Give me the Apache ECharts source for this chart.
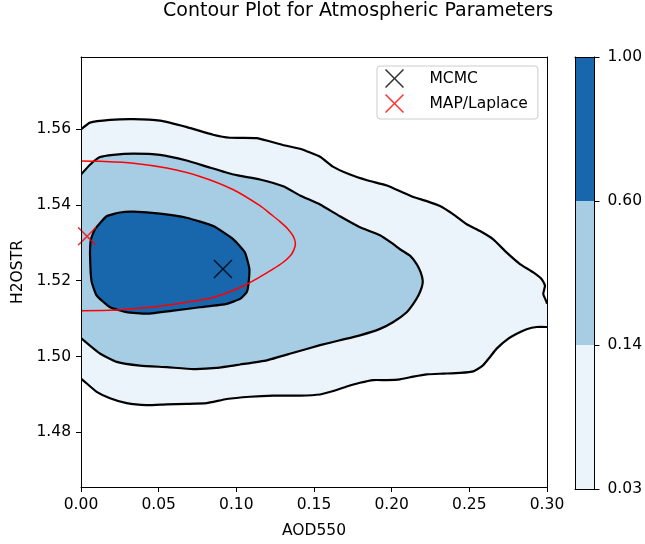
<!DOCTYPE html>
<html>
<head>
<meta charset="utf-8">
<title>Contour Plot for Atmospheric Parameters</title>
<script src="https://cdn.jsdelivr.net/npm/echarts@6/dist/echarts.min.js"></script>
<style>
  html, body { margin: 0; padding: 0; background: #fff; }
  #chart { width: 645px; height: 544px; }
</style>
</head>
<body>
<div id="chart"></div>
<script>
// contour levels (colorbar) and axis ticks
const levels = [0.03, 0.14, 0.60, 1.00];
const xTicks = [0.00, 0.05, 0.10, 0.15, 0.20, 0.25, 0.30];
const yTicks = [1.48, 1.50, 1.52, 1.54, 1.56];

// contour outlines as [AOD550, H2OSTR]
// level 0.03: upper edge (left -> right) and lower edge (right -> left)
const outerTop = [
    [0.0000, 1.5599], [0.0058, 1.5617], [0.0187, 1.5624], [0.0335, 1.5626],
    [0.0509, 1.5622], [0.0682, 1.5605], [0.0850, 1.5585], [0.0959, 1.5577],
    [0.1133, 1.5576], [0.1300, 1.5558], [0.1410, 1.5548], [0.1539, 1.5527],
    [0.1622, 1.5501], [0.1732, 1.5480], [0.1841, 1.5465], [0.1970, 1.5451],
    [0.2054, 1.5436], [0.2139, 1.5421], [0.2226, 1.5410], [0.2311, 1.5397],
    [0.2397, 1.5375], [0.2483, 1.5349], [0.2569, 1.5331], [0.2654, 1.5309],
    [0.2741, 1.5274], [0.2826, 1.5244], [0.2912, 1.5222], [0.2966, 1.5204],
    [0.2987, 1.5187], [0.2976, 1.5165], [0.2998, 1.5143], [0.3000, 1.5139]
];
const outerBottom = [
    [0.3000, 1.5078], [0.2934, 1.5078], [0.2869, 1.5072], [0.2805, 1.5060],
    [0.2751, 1.5047], [0.2676, 1.5021], [0.2633, 1.4999], [0.2586, 1.4976],
    [0.2526, 1.4961], [0.2440, 1.4957], [0.2333, 1.4955], [0.2226, 1.4953],
    [0.2139, 1.4947], [0.2054, 1.4940], [0.1968, 1.4938], [0.1882, 1.4938],
    [0.1796, 1.4931], [0.1711, 1.4921], [0.1624, 1.4909], [0.1539, 1.4900],
    [0.1410, 1.4897], [0.1238, 1.4897], [0.1088, 1.4894], [0.0938, 1.4888],
    [0.0809, 1.4877], [0.0680, 1.4875], [0.0552, 1.4874], [0.0423, 1.4872],
    [0.0294, 1.4877], [0.0187, 1.4890], [0.0101, 1.4907], [0.0037, 1.4929],
    [0.0000, 1.4942]
];
// level 0.14 (open at the left edge)
const midContour = [
    [0.0000, 1.5480], [0.0058, 1.5506], [0.0122, 1.5526], [0.0208, 1.5532],
    [0.0337, 1.5535], [0.0509, 1.5532], [0.0680, 1.5517], [0.0809, 1.5501],
    [0.0981, 1.5480], [0.1152, 1.5467], [0.1302, 1.5449], [0.1410, 1.5425],
    [0.1539, 1.5401], [0.1667, 1.5370], [0.1796, 1.5341], [0.1925, 1.5320],
    [0.2002, 1.5299], [0.2054, 1.5283], [0.2118, 1.5266], [0.2161, 1.5244],
    [0.2187, 1.5222], [0.2200, 1.5200], [0.2194, 1.5183], [0.2172, 1.5161],
    [0.2139, 1.5139], [0.2097, 1.5117], [0.2011, 1.5091], [0.1925, 1.5073],
    [0.1796, 1.5056], [0.1667, 1.5043], [0.1539, 1.5030], [0.1367, 1.5010],
    [0.1196, 1.4990], [0.1024, 1.4979], [0.0874, 1.4970], [0.0723, 1.4967],
    [0.0552, 1.4972], [0.0380, 1.4976], [0.0230, 1.4986], [0.0122, 1.5008],
    [0.0000, 1.5049]
];
// level 0.60 (closed)
const innerContour = [
    [0.0062, 1.5222], [0.0058, 1.5274], [0.0064, 1.5309], [0.0090, 1.5336],
    [0.0165, 1.5370], [0.0251, 1.5380], [0.0337, 1.5382], [0.0509, 1.5377],
    [0.0680, 1.5366], [0.0852, 1.5344], [0.0981, 1.5309], [0.1056, 1.5274],
    [0.1084, 1.5231], [0.1077, 1.5187], [0.1067, 1.5170], [0.1024, 1.5152],
    [0.0938, 1.5139], [0.0766, 1.5130], [0.0594, 1.5121], [0.0423, 1.5113],
    [0.0294, 1.5117], [0.0187, 1.5130], [0.0101, 1.5161], [0.0069, 1.5196],
    [0.0062, 1.5222]
];
// Laplace approximation ellipse (visible part)
const laplaceEllipse = [
    [0.0000, 1.5516], [0.0122, 1.5515], [0.0337, 1.5510], [0.0552, 1.5497],
    [0.0766, 1.5475], [0.0981, 1.5440], [0.1152, 1.5398], [0.1217, 1.5377],
    [0.1281, 1.5356], [0.1333, 1.5336], [0.1365, 1.5318], [0.1380, 1.5300],
    [0.1371, 1.5282], [0.1346, 1.5265], [0.1300, 1.5248], [0.1230, 1.5229],
    [0.1152, 1.5210], [0.1024, 1.5182], [0.0852, 1.5156], [0.0659, 1.5142],
    [0.0444, 1.5130], [0.0230, 1.5123], [0.0000, 1.5121]
];
const mcmcPoint = [0.0914, 1.5231];
const mapPoint = [0.0039, 1.5317];

const FONT = 'DejaVu Sans';
const bandColors = ['#ecf4fb', '#a6cde4', '#1866ac'];
const crossPath = 'path://M5.66,0L50,44.34L94.34,0L100,5.66L55.66,50L100,94.34L94.34,100L50,55.66L5.66,100L0,94.34L44.34,50L0,5.66Z';

// polygon / polyline drawn through the axis scales
function shapeSeries(points, kind, style, z, smooth) {
    return {
        type: 'custom',
        coordinateSystem: 'cartesian2d',
        xAxisIndex: 0,
        yAxisIndex: 0,
        clip: true,
        silent: true,
        z: z,
        data: [0],
        renderItem: function (params, api) {
            const pts = points.map(p => api.coord(p));
            return {
                type: kind,
                shape: { points: pts, smooth: smooth || 0.15 },
                style: style
            };
        }
    };
}

const chart = echarts.init(document.getElementById('chart'));

const spine = { show: true, onZero: false, lineStyle: { color: '#000', width: 1 } };
const hidden = { show: false };
const lineStyle = { fill: null, stroke: '#000', lineWidth: 2.2 };

const option = {
    animation: false,
    backgroundColor: '#fff',
    title: {
        text: 'Contour Plot for Atmospheric Parameters',
        left: 163,
        top: 2,
        padding: 0,
        textStyle: { fontFamily: FONT, fontSize: 19, fontWeight: 'normal', color: '#000' }
    },
    legend: {
        data: ['MCMC', 'MAP/Laplace'],
        orient: 'vertical',
        left: 377,
        top: 66,
        itemWidth: 30,
        itemHeight: 19,
        itemGap: 6,
        padding: [3, 10, 6, 8],
        backgroundColor: 'rgba(255,255,255,0.8)',
        borderColor: '#cccccc',
        borderWidth: 1,
        borderRadius: 3,
        selectedMode: false,
        textStyle: { fontFamily: FONT, fontSize: 15.5, color: '#000', padding: [0, 0, 0, 15] }
    },
    grid: [
        { left: 81, top: 57, width: 466, height: 432 },
        { left: 575, top: 57, width: 22, height: 432 }
    ],
    xAxis: [
        {
            gridIndex: 0, type: 'value', position: 'bottom', z: 5,
            min: xTicks[0], max: xTicks[xTicks.length - 1], interval: 0.05,
            name: 'AOD550', nameLocation: 'middle', nameGap: 36,
            nameTextStyle: { fontFamily: FONT, fontSize: 15.5, color: '#000' },
            axisLine: spine,
            axisTick: { show: true, length: 5, lineStyle: { color: '#000' } },
            axisLabel: { margin: 10, color: '#000', fontFamily: FONT, fontSize: 15.5,
                formatter: v => v.toFixed(2) },
            splitLine: hidden
        },
        {
            gridIndex: 0, type: 'value', position: 'top', z: 5,
            min: xTicks[0], max: xTicks[xTicks.length - 1],
            axisLine: spine, axisTick: hidden, axisLabel: hidden, splitLine: hidden
        },
        {
            gridIndex: 1, type: 'category', position: 'bottom', z: 5, data: ['band'],
            axisLine: spine, axisTick: hidden, axisLabel: hidden, splitLine: hidden
        },
        {
            gridIndex: 1, type: 'category', position: 'top', z: 5, data: ['band'],
            axisLine: spine, axisTick: hidden, axisLabel: hidden, splitLine: hidden
        }
    ],
    yAxis: [
        {
            gridIndex: 0, type: 'value', position: 'left', z: 5,
            min: 1.4656, max: 1.579,
            name: 'H2OSTR', nameLocation: 'middle', nameGap: 53,
            nameTextStyle: { fontFamily: FONT, fontSize: 15.5, color: '#000' },
            axisLine: spine,
            axisTick: { show: true, length: 5, customValues: yTicks, lineStyle: { color: '#000' } },
            axisLabel: { margin: 10, color: '#000', fontFamily: FONT, fontSize: 15.5,
                customValues: yTicks, formatter: v => v.toFixed(2) },
            splitLine: hidden
        },
        {
            gridIndex: 0, type: 'value', position: 'right', z: 5,
            min: 1.4656, max: 1.579,
            axisLine: spine, axisTick: hidden, axisLabel: hidden, splitLine: hidden
        },
        {
            gridIndex: 1, type: 'value', position: 'right', z: 5,
            min: 0, max: levels.length - 1, interval: 1,
            axisLine: spine,
            axisTick: { show: true, length: 5, lineStyle: { color: '#000' } },
            axisLabel: { margin: 13, color: '#000', fontFamily: FONT, fontSize: 15.5,
                formatter: v => levels[v].toFixed(2) },
            splitLine: hidden
        },
        {
            gridIndex: 1, type: 'value', position: 'left', z: 5,
            min: 0, max: levels.length - 1,
            axisLine: spine, axisTick: hidden, axisLabel: hidden, splitLine: hidden
        }
    ],
    series: [
        // filled levels
        shapeSeries(outerTop.concat(outerBottom), 'polygon', { fill: bandColors[0] }, 2),
        shapeSeries(midContour, 'polygon', { fill: bandColors[1] }, 2),
        shapeSeries(innerContour, 'polygon', { fill: bandColors[2] }, 2),
        // contour lines
        shapeSeries(outerTop, 'polyline', lineStyle, 3),
        shapeSeries(outerBottom, 'polyline', lineStyle, 3),
        shapeSeries(midContour, 'polyline', lineStyle, 3),
        shapeSeries(innerContour, 'polyline', lineStyle, 3),
        // Laplace ellipse
        shapeSeries(laplaceEllipse, 'polyline', { fill: null, stroke: '#ff0000', lineWidth: 1.5 }, 3, 0.3),
        {
            name: 'MCMC', type: 'scatter', xAxisIndex: 0, yAxisIndex: 0, z: 4,
            symbol: crossPath, symbolSize: 19, silent: true,
            itemStyle: { color: '#000' },
            data: [mcmcPoint]
        },
        {
            name: 'MAP/Laplace', type: 'scatter', xAxisIndex: 0, yAxisIndex: 0, z: 4,
            symbol: crossPath, symbolSize: 19, silent: true,
            itemStyle: { color: '#ff0000' },
            data: [mapPoint]
        }
    ].concat(levels.slice(0, -1).map((lv, i) => ({
        // colorbar bands, one per level interval
        name: 'band' + i, type: 'bar', xAxisIndex: 2, yAxisIndex: 2, stack: 'cb',
        barWidth: '100%', silent: true,
        itemStyle: { color: bandColors[i] },
        data: [1]
    })))
};

chart.setOption(option);
</script>
</body>
</html>
